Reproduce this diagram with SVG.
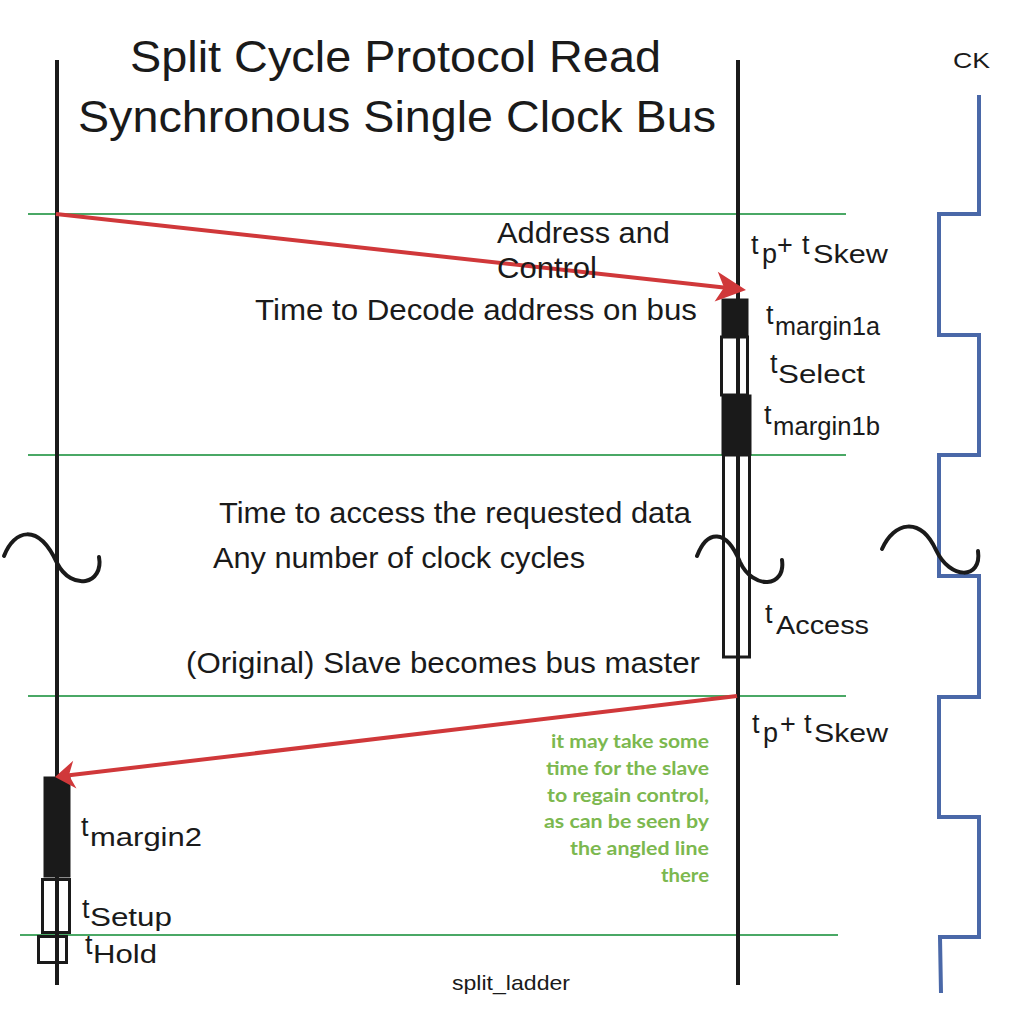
<svg xmlns="http://www.w3.org/2000/svg" width="1016" height="1018" viewBox="0 0 1016 1018">
<style>
.t{font-family:"Liberation Sans",Arial,Helvetica,sans-serif;fill:#1a1a1a}
.m{font-size:29px}
.l{font-size:25px}
.s{font-size:27px}
.g{font-family:Lato,"Open Sans",sans-serif;font-weight:700;font-size:19px;fill:#7cb84f;text-anchor:end}
.grid{stroke:#4aa865;stroke-width:2;fill:none}
.bus{stroke:#1a1a1a;stroke-width:4;fill:none}
.fill{fill:#1a1a1a;stroke:#1a1a1a;stroke-width:1}
.open{fill:#ffffff;stroke:#1a1a1a;stroke-width:3}
.red{stroke:#d0383a;stroke-width:4;fill:none}
.head{fill:#d0383a}
.wave{stroke:#1a1a1a;stroke-width:4;fill:none;stroke-linecap:round}
.ck{stroke:#4a68a8;stroke-width:4;fill:none}
</style>
<rect width="1016" height="1018" fill="#ffffff"/>

<g id="title">
<text class="t" x="130" y="72" font-size="44" textLength="531" lengthAdjust="spacingAndGlyphs">Split Cycle Protocol Read</text>
<text class="t" x="78" y="132" font-size="44" textLength="638" lengthAdjust="spacingAndGlyphs">Synchronous Single Clock Bus</text>
</g>

<g id="grid-lines">
<line class="grid" x1="28" y1="214" x2="846" y2="214"/>
<line class="grid" x1="28" y1="455" x2="846" y2="455"/>
<line class="grid" x1="28" y1="696" x2="846" y2="696"/>
<line class="grid" x1="20" y1="935" x2="838" y2="935"/>
</g>

<g id="master-line">
<line class="bus" x1="57" y1="60" x2="57" y2="985"/>
</g>
<g id="slave-line">
<line class="bus" x1="738" y1="60" x2="738" y2="985"/>
</g>

<g id="clock">
<text class="t" x="953" y="68" font-size="22" textLength="37" lengthAdjust="spacingAndGlyphs">CK</text>
<path class="ck" d="M979,95 V214 H939 V335 H979 V455 H939 V576 H979 V697 H939 V817 H979 V937 H940 L941,993"/>
</g>

<g id="slave-boxes">
<rect class="fill" x="722" y="299" width="26" height="37"/>
<rect class="open" x="721.5" y="337" width="26" height="58"/>
<rect class="fill" x="722" y="395" width="29" height="60"/>
<rect class="open" x="723.5" y="455" width="26" height="202"/>
<line class="bus" x1="738" y1="336" x2="738" y2="657" stroke-width="3"/>
</g>

<g id="master-boxes">
<rect class="fill" x="44" y="777" width="26" height="100"/>
<rect class="open" x="42.5" y="879.5" width="27" height="53"/>
<rect class="open" x="38.5" y="936.5" width="28" height="26" stroke-width="2"/>
<line class="bus" x1="57" y1="879" x2="57" y2="985" stroke-width="3"/>
</g>

<g id="breaks">
<path class="wave" d="M4,556 C14,530 38,522 57,563 C72,592 104,584 99,557"/>
<path class="wave" d="M697,556 C707,530 726,528 740,562 C753,590 786,588 782,560"/>
<path class="wave" d="M882,549 C894,522 920,516 936,550 C950,580 982,580 978,551"/>
</g>

<g id="connectors">
<line class="red" x1="56" y1="214" x2="726" y2="287.8"/>
<polygon class="head" points="746,290 717.8,271.8 724,287.6 714.6,301.6"/>
<line class="red" x1="737" y1="696" x2="67" y2="775.6"/>
<polygon class="head" points="55,777 73.2,760.7 68.9,775.3 76.5,788.5"/>
</g>

<g id="labels">
<text class="t m" x="497" y="243" textLength="173" lengthAdjust="spacingAndGlyphs">Address and</text>
<text class="t m" x="497" y="278" textLength="100" lengthAdjust="spacingAndGlyphs">Control</text>
<text class="t m" x="255" y="320" textLength="442" lengthAdjust="spacingAndGlyphs">Time to Decode address on bus</text>
<text class="t m" x="219" y="523" textLength="472" lengthAdjust="spacingAndGlyphs">Time to access the requested data</text>
<text class="t m" x="213" y="568" textLength="372" lengthAdjust="spacingAndGlyphs">Any number of clock cycles</text>
<text class="t m" x="186" y="673" textLength="514" lengthAdjust="spacingAndGlyphs">(Original) Slave becomes bus master</text>
</g>

<g id="timing-top">
<text class="t s" x="751" y="254">t</text>
<text class="t s" x="762" y="263">p</text>
<text class="t s" x="777" y="254">+</text>
<text class="t s" x="802" y="254">t</text>
<text class="t l" x="813" y="263" textLength="75" lengthAdjust="spacingAndGlyphs">Skew</text>
</g>
<g id="t-margin1a">
<text class="t s" x="766" y="324">t</text>
<text class="t l" x="775" y="335" textLength="105" lengthAdjust="spacingAndGlyphs">margin1a</text>
</g>
<g id="t-select">
<text class="t s" x="770" y="373">t</text>
<text class="t l" x="778" y="383" textLength="87" lengthAdjust="spacingAndGlyphs">Select</text>
</g>
<g id="t-margin1b">
<text class="t s" x="764" y="424">t</text>
<text class="t l" x="773" y="435" textLength="107" lengthAdjust="spacingAndGlyphs">margin1b</text>
</g>
<g id="t-access">
<text class="t s" x="765" y="623">t</text>
<text class="t l" x="776" y="634" textLength="93" lengthAdjust="spacingAndGlyphs">Access</text>
</g>
<g id="timing-bottom">
<text class="t s" x="752" y="733">t</text>
<text class="t s" x="763" y="742">p</text>
<text class="t s" x="780" y="733">+</text>
<text class="t s" x="804" y="733">t</text>
<text class="t l" x="814" y="742" textLength="74" lengthAdjust="spacingAndGlyphs">Skew</text>
</g>
<g id="t-margin2">
<text class="t s" x="81" y="836">t</text>
<text class="t l" x="90" y="846" textLength="112" lengthAdjust="spacingAndGlyphs">margin2</text>
</g>
<g id="t-setup">
<text class="t s" x="82" y="918">t</text>
<text class="t l" x="90" y="926" textLength="82" lengthAdjust="spacingAndGlyphs">Setup</text>
</g>
<g id="t-hold">
<text class="t s" x="85" y="954">t</text>
<text class="t l" x="93" y="963" textLength="64" lengthAdjust="spacingAndGlyphs">Hold</text>
</g>

<g id="note">
<text class="g" x="709" y="748" textLength="158" lengthAdjust="spacingAndGlyphs">it may take some</text>
<text class="g" x="709" y="775" textLength="163" lengthAdjust="spacingAndGlyphs">time for the slave</text>
<text class="g" x="709" y="802" textLength="162" lengthAdjust="spacingAndGlyphs">to regain control,</text>
<text class="g" x="709" y="828" textLength="165" lengthAdjust="spacingAndGlyphs">as can be seen by</text>
<text class="g" x="709" y="855" textLength="139" lengthAdjust="spacingAndGlyphs">the angled line</text>
<text class="g" x="709" y="882" textLength="48" lengthAdjust="spacingAndGlyphs">there</text>
</g>

<g id="caption">
<text class="t" x="452" y="990" font-size="21" textLength="118" lengthAdjust="spacingAndGlyphs">split_ladder</text>
</g>
</svg>
